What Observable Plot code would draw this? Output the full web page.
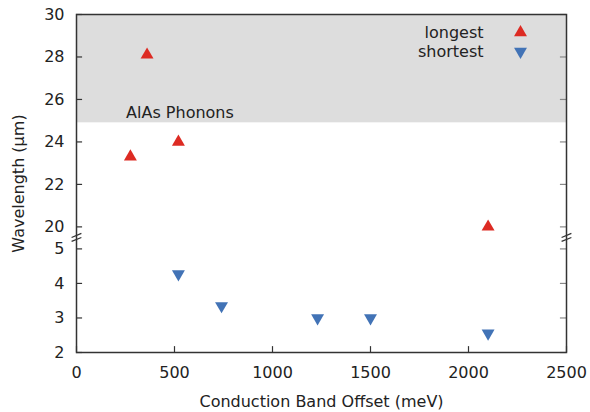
<!DOCTYPE html>
<html>
<head>
<meta charset="utf-8">
<script src="https://cdn.jsdelivr.net/npm/d3@7"></script>
<script src="https://cdn.jsdelivr.net/npm/@observablehq/plot@0.6"></script>
<style>
  html, body { margin: 0; padding: 0; background: #fff; }
  svg { display: block; }
</style>
</head>
<body>
<div id="chart"></div>
<script>
// Data
const longestX = [275, 360, 520, 2100];
const longestY = [23.3, 28.1, 24.0, 20.0];
const shortestX = [520, 740, 1230, 1500, 2100];
const shortestY = [4.27, 3.35, 3.0, 3.0, 2.56];
const xTicks = [0, 500, 1000, 1500, 2000, 2500];
const yTicks = [2, 3, 4, 5, 20, 22, 24, 26, 28, 30];
const phononBand = [24.9, 30];
const seriesNames = ["longest", "shortest"];
const xTitle = "Conduction Band Offset (meV)";
const yTitle = "Wavelength (µm)";
const bandLabel = "AlAs Phonons";

const RED = "#dd2b23";
const BLUE = "#4273b6";
const FONT = "DejaVu Sans";

const longest = longestX.map((x, i) => ({x, y: longestY[i]}));
const shortest = shortestX.map((x, i) => ({x, y: shortestY[i]}));

const chart = Plot.plot({
  width: 590,
  height: 412,
  marginLeft: 76,
  marginRight: 24,
  marginTop: 14,
  marginBottom: 60,
  style: {fontFamily: FONT, fontSize: "16px", color: "#222", background: "#fff"},
  x: {domain: [0, 2500], range: [76, 566]},
  y: {type: "linear", domain: [2, 5.33, 19.5, 30], range: [352, 237, 237, 14]},
  marks: [
    Plot.rect([phononBand], {x1: 0, x2: 2500, y1: d => d[0], y2: d => d[1], fill: "#dddddd"}),
    Plot.text([bandLabel], {x: 253, y: 25.38, text: d => d, textAnchor: "start", fontSize: 16, fill: "#222"}),
    // inward ticks
    Plot.ruleY(yTicks, {y: d => d, x1: 0, x2: 31, stroke: "#333", strokeWidth: 1.2}),
    Plot.ruleY(yTicks, {y: d => d, x1: 2469, x2: 2500, stroke: "#888", strokeWidth: 1.2}),
    Plot.ruleX(xTicks, {x: d => d, y1: 2, y2: 2.17, stroke: "#333", strokeWidth: 1.2}),
    // tick labels
    Plot.axisY({ticks: yTicks, tickSize: 0, tickPadding: 12, fontSize: 16, label: null, tickFormat: d => String(d)}),
    Plot.axisX({ticks: xTicks, tickSize: 0, tickPadding: 14, fontSize: 16, label: null, tickFormat: d => String(d)}),
    // axis titles
    Plot.text([xTitle], {frameAnchor: "bottom", text: d => d, dy: 49, lineAnchor: "middle", fontSize: 16, fill: "#222"}),
    Plot.text([yTitle], {frameAnchor: "left", text: d => d, dx: -58, rotate: -90, textAnchor: "middle", lineAnchor: "middle", fontSize: 16, fill: "#222"}),
    Plot.frame({stroke: "#333", strokeWidth: 1.5}),
    // break marks
    Plot.link([0, 2500], {x1: d => d - 25, x2: d => d + 25, y1: 5.215, y2: 5.33, stroke: "#333", strokeWidth: 1.3}),
    Plot.link([0, 2500], {x1: d => d - 25, x2: d => d + 25, y1: 5.33, y2: 19.69, stroke: "#333", strokeWidth: 1.3}),
    // data
    Plot.dot(longest, {x: "x", y: "y", symbol: "triangle", r: 4.8, fill: RED, stroke: "none"}),
    Plot.dot(shortest, {x: "x", y: "y", symbol: "triangle", rotate: 180, r: 4.8, fill: BLUE, stroke: "none"}),
    // legend
    Plot.text([seriesNames[0]], {frameAnchor: "top-right", text: d => d, dx: -83, dy: 18, lineAnchor: "middle", textAnchor: "end", fontSize: 16, fill: "#222"}),
    Plot.text([seriesNames[1]], {frameAnchor: "top-right", text: d => d, dx: -83, dy: 37, lineAnchor: "middle", textAnchor: "end", fontSize: 16, fill: "#222"}),
    Plot.dot([seriesNames[0]], {frameAnchor: "top-right", dx: -46, dy: 18, symbol: "triangle", r: 4.8, fill: RED, stroke: "none"}),
    Plot.dot([seriesNames[1]], {frameAnchor: "top-right", dx: -46, dy: 37, symbol: "triangle", rotate: 180, r: 4.8, fill: BLUE, stroke: "none"})
  ]
});
document.getElementById("chart").appendChild(chart);
</script>
</body>
</html>
